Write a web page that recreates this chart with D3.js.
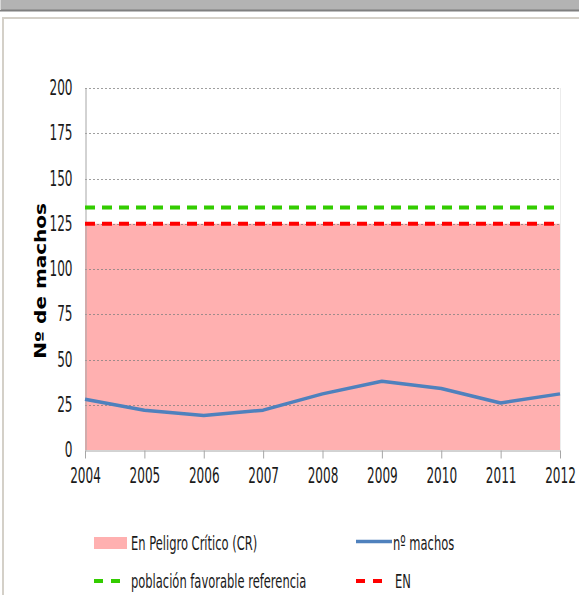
<!DOCTYPE html>
<html>
<head>
<meta charset="utf-8">
<script src="https://cdn.jsdelivr.net/npm/d3@7"></script>
<style>
  body { margin: 0; background: #fff; }
  svg { display: block; }
</style>
</head>
<body>
<svg id="chart" width="579" height="595"></svg>
<script>
// Census years and number of males counted each year
const years = [2004, 2005, 2006, 2007, 2008, 2009, 2010, 2011, 2012];
const machos = [28, 22, 19, 22, 31, 38, 34, 26, 31];
// Upper limit of the "critically endangered" band and the EN threshold
const crBand = [125, 125, 125, 125, 125, 125, 125, 125, 125];
const enLine = [125, 125, 125, 125, 125, 125, 125, 125, 125];
// Favourable reference population
const favorableLine = [134, 134, 134, 134, 134, 134, 134, 134, 134];
const yTicks = [0, 25, 50, 75, 100, 125, 150, 175, 200];
const yTitle = "Nº de machos";
const legendLabels = ["En Peligro Crítico (CR)", "nº machos", "población favorable referencia", "EN"];

const colors = {
  band: "#ffb0b0",
  machos: "#4f81bd",
  favorable: "#33cc00",
  en: "#ff0000",
  text: "#1a1a1a",
  axis: "#a6a6a6",
  grid: "#7f7f7f"
};

const FONT = "'DejaVu Sans', Verdana, sans-serif";
const SX = 0.575; // horizontal squeeze of the condensed labels

const svg = d3.select("#chart");

// window chrome: grey title strip and the pane border
svg.append("rect").attr("x", 0).attr("y", 0).attr("width", 579).attr("height", 10).attr("fill", "#b3b3b3");
svg.append("line").attr("x1", 0).attr("x2", 579).attr("y1", 10.5).attr("y2", 10.5)
  .attr("stroke", "#7f7f7f").attr("stroke-width", 2);
svg.append("line").attr("x1", 0.5).attr("x2", 0.5).attr("y1", 0).attr("y2", 10)
  .attr("stroke", "#d8d8d8");
svg.append("path").attr("d", "M3,595 V18 H579")
  .attr("fill", "none").attr("stroke", "#d4d0c8").attr("stroke-width", 2);

const x = d3.scaleLinear().domain([d3.min(years), d3.max(years)]).range([85, 560]);
const y = d3.scaleLinear().domain([0, 200]).range([450, 88]);

const plot = svg.append("g");

// faint right edge of the plot area
plot.append("line").attr("x1", 560.5).attr("x2", 560.5).attr("y1", y(200)).attr("y2", y(0))
  .attr("stroke", "#ececec");

// CR band
const area = d3.area().x((d, i) => x(years[i])).y0(y(0)).y1(d => y(d));
plot.append("path").datum(crBand).attr("d", area).attr("fill", colors.band);

// dotted horizontal gridlines
plot.append("g").selectAll("line").data(yTicks.filter(v => v > 0)).join("line")
  .attr("x1", x(years[0])).attr("x2", x(years[years.length - 1]))
  .attr("y1", d => Math.round(y(d)) + 0.5).attr("y2", d => Math.round(y(d)) + 0.5)
  .attr("stroke", colors.grid).attr("stroke-opacity", 0.75)
  .attr("stroke-dasharray", "2,2");

// y axis
const yAxis = plot.append("g").attr("transform", `translate(${x(years[0]) + 0.5},0)`)
  .call(d3.axisLeft(y).tickValues(yTicks).tickSize(0).tickPadding(13));
yAxis.select(".domain").attr("stroke", colors.axis);
yAxis.selectAll("text").attr("font-family", FONT).attr("font-size", 21).attr("fill", colors.text)
  .each(function () {
    const t = d3.select(this);
    t.attr("x", (+t.attr("x")) / SX).attr("transform", `scale(${SX},1)`);
  });

// x axis
const xAxis = plot.append("g").attr("transform", `translate(0,${y(0) + 0.5})`)
  .call(d3.axisBottom(x).tickValues(years).tickFormat(d3.format("d")).tickSize(8).tickPadding(10).tickSizeOuter(0));
xAxis.select(".domain").attr("stroke", colors.axis);
xAxis.selectAll(".tick line").attr("stroke", colors.axis);
xAxis.selectAll("text").attr("font-family", FONT).attr("font-size", 21).attr("fill", colors.text)
  .attr("transform", `scale(${SX},1)`);

// series
const line = d3.line().x((d, i) => x(years[i])).y(d => y(d));
plot.append("path").datum(machos).attr("d", line)
  .attr("fill", "none").attr("stroke", colors.machos).attr("stroke-width", 3.5)
  .attr("stroke-linejoin", "round");
plot.append("path").datum(favorableLine).attr("d", line)
  .attr("fill", "none").attr("stroke", colors.favorable).attr("stroke-width", 4)
  .attr("stroke-dasharray", "10,7");
plot.append("path").datum(enLine).attr("d", line)
  .attr("fill", "none").attr("stroke", colors.en).attr("stroke-width", 4)
  .attr("stroke-dasharray", "10,7");

// y axis title
const titleG = svg.append("g").attr("transform", "translate(46,281) rotate(-90)");
titleG.append("text").text(yTitle)
  .attr("font-family", FONT).attr("font-weight", "bold").attr("font-size", 20)
  .attr("text-anchor", "middle").attr("fill", "#000")
  .attr("transform", "scale(1,0.75)");

// legend
const legend = svg.append("g");
function legendText(px, py, label) {
  legend.append("g").attr("transform", `translate(${px},${py})`)
    .append("text").text(label)
    .attr("font-family", FONT).attr("font-size", 20).attr("fill", colors.text)
    .attr("dy", "0.36em").attr("transform", `scale(${SX},1)`);
}
legend.append("rect").attr("x", 94).attr("y", 537).attr("width", 33).attr("height", 12).attr("fill", colors.band);
legendText(131, 543, legendLabels[0]);
legend.append("line").attr("x1", 356).attr("x2", 392).attr("y1", 541.5).attr("y2", 541.5)
  .attr("stroke", colors.machos).attr("stroke-width", 3.5);
legendText(393, 543, legendLabels[1]);
legend.append("line").attr("x1", 94).attr("x2", 121).attr("y1", 581).attr("y2", 581)
  .attr("stroke", colors.favorable).attr("stroke-width", 4).attr("stroke-dasharray", "9,8");
legendText(131, 581, legendLabels[2]);
legend.append("line").attr("x1", 356).attr("x2", 383).attr("y1", 581).attr("y2", 581)
  .attr("stroke", colors.en).attr("stroke-width", 4).attr("stroke-dasharray", "9,8");
legendText(395, 581, legendLabels[3]);
</script>
</body>
</html>
